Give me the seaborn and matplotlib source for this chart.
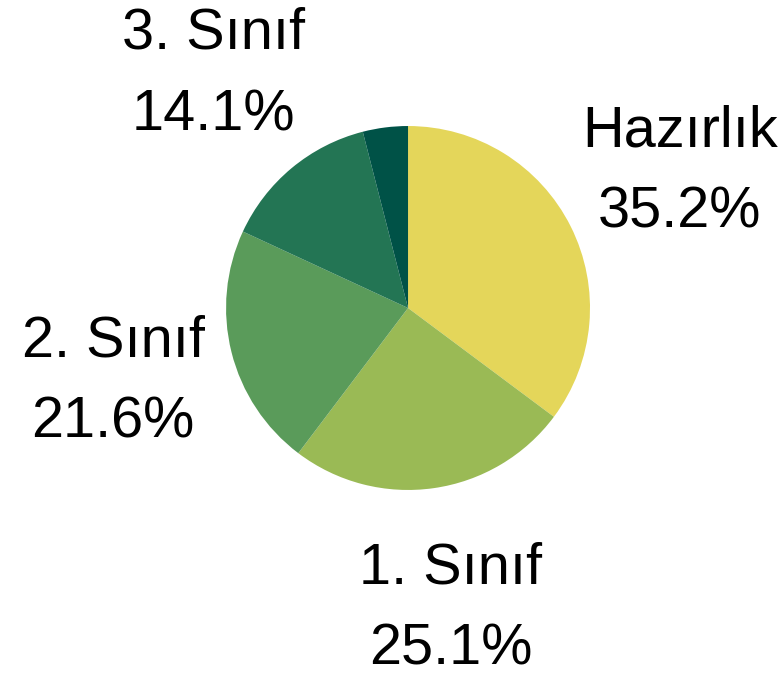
import matplotlib
matplotlib.use("Agg")
import matplotlib.pyplot as plt
import seaborn as sns

# slice data, clockwise from 12 o'clock
names = ["Hazırlık", "1. Sınıf", "2. Sınıf", "3. Sınıf", ""]
shares = [35.2, 25.1, 21.6, 14.1, 4.0]
colours = ["#e4d65a", "#9aba55", "#5a9b5a", "#237554", "#005247"]

sns.set_style("white")
plt.rcParams["font.family"] = ["Liberation Sans", "DejaVu Sans"]

labels = [f"{n}\n{s:.1f}%" if n else "" for n, s in zip(names, shares)]

fig = plt.figure(figsize=(7.84, 6.79), dpi=100)
ax = fig.add_axes([0.5204 - 0.2321, 1 - 0.4536 - 0.268, 0.4643, 0.536])
wedges, texts = ax.pie(
    shares,
    labels=labels,
    colors=sns.color_palette(colours),
    startangle=90,
    counterclock=False,
    labeldistance=1.67,
    wedgeprops=dict(linewidth=0),
    textprops=dict(fontsize=41.5, linespacing=1.65, color="black"),
)
for t in texts:
    t.set_horizontalalignment("center")
    t.set_verticalalignment("center")
    t.set_clip_on(False)
ax.set_xlim(-1, 1)
ax.set_ylim(-1, 1)
ax.set_aspect("equal")

fig.savefig("out.png", dpi=100)
plt.close(fig)
